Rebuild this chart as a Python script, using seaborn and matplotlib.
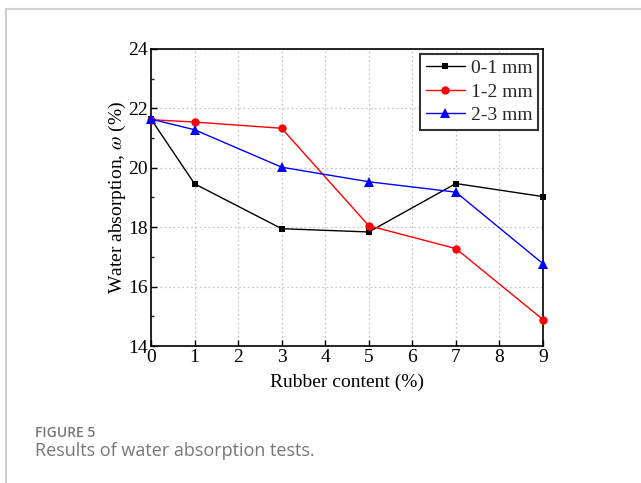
import matplotlib
matplotlib.use("Agg")
import matplotlib.pyplot as plt
import seaborn as sns
import pandas as pd
from matplotlib.lines import Line2D
from matplotlib.ticker import MultipleLocator

rubber = [0, 1, 3, 5, 7, 9]
s01 = [21.64, 19.46, 17.95, 17.84, 19.47, 19.03]
s12 = [21.62, 21.54, 21.33, 18.05, 17.28, 14.89]
s23 = [21.64, 21.28, 20.02, 19.53, 19.18, 16.77]
labels = ["0-1 mm", "1-2 mm", "2-3 mm"]
colors = ["#000000", "#ff0000", "#0000ff"]
markers = ["s", "o", "^"]
msizes = [5.0, 6.0, 6.5]

rows = []
for lab, vals in zip(labels, [s01, s12, s23]):
    for x, y in zip(rubber, vals):
        rows.append({"Rubber": x, "Water": y, "Size": lab})
df = pd.DataFrame(rows)

sns.set_theme(style="white")
plt.rcParams["font.family"] = ["Liberation Serif", "DejaVu Serif"]
plt.rcParams["mathtext.fontset"] = "stix"

fig = plt.figure(figsize=(6.41, 4.83), dpi=100)
ax = fig.add_axes([0.2356, 0.2836, 0.6115, 0.615])

sns.lineplot(data=df, x="Rubber", y="Water", hue="Size", style="Size",
             palette=dict(zip(labels, colors)), markers=dict(zip(labels, markers)),
             dashes=False, linewidth=1.0, markeredgewidth=0,
             ax=ax, legend=False, zorder=3)
for ln, ms in zip(ax.lines, msizes):
    ln.set_clip_on(False)
    ln.set_markersize(ms)

ax.set_xlim(0, 9)
ax.set_ylim(14, 24)
ax.xaxis.set_major_locator(MultipleLocator(1))
ax.yaxis.set_major_locator(MultipleLocator(2))
ax.yaxis.set_minor_locator(MultipleLocator(1))
ax.tick_params(axis="both", which="major", direction="in", length=4, width=1,
               labelsize=14, colors="black", pad=2, bottom=True, left=True,
               labelfontfamily="Liberation Serif")
ax.tick_params(axis="y", which="minor", direction="in", length=2.5, width=1, left=True)
ax.grid(True, which="major", color="#c8c8c8", linestyle=(0, (1.5, 2)), linewidth=0.9)
for sp in ax.spines.values():
    sp.set_color("black")
    sp.set_linewidth(1.2)

ax.set_xlabel("Rubber content (%)", fontsize=14, labelpad=6, color="black")
ax.set_ylabel(r"Water absorption, $\omega$ (%)", fontsize=14, labelpad=0, color="black")

handles = [Line2D([], [], color=c, marker=m, markersize=s, markeredgewidth=0, linewidth=1.0)
           for c, m, s in zip(colors, markers, msizes)]
leg = ax.legend(handles, labels, loc="upper right", fontsize=14, frameon=True,
                fancybox=False, edgecolor="#333333", framealpha=1,
                borderpad=0.3, labelspacing=0.3, handlelength=2.0, handletextpad=0.3,
                borderaxespad=0.25)
leg.get_frame().set_linewidth(1.5)

# page border lines
fig.add_artist(Line2D([6/641, 1.0], [1-9/483, 1-9/483], transform=fig.transFigure,
                      color="#d0d0d0", linewidth=1.5))
fig.add_artist(Line2D([6/641, 6/641], [1-9/483, 0], transform=fig.transFigure,
                      color="#d0d0d0", linewidth=1.5))

fig.text(35/641, 1-433/483, "FIGURE 5", fontsize=10, color="#777777",
         family=["Open Sans", "DejaVu Sans"], va="center", ha="left", weight="semibold")
fig.text(35/641, 1-451/483, "Results of water absorption tests.", fontsize=13,
         color="#777777", family=["Open Sans", "DejaVu Sans"], va="center", ha="left")

fig.savefig("out.png", dpi=100, facecolor="white")
